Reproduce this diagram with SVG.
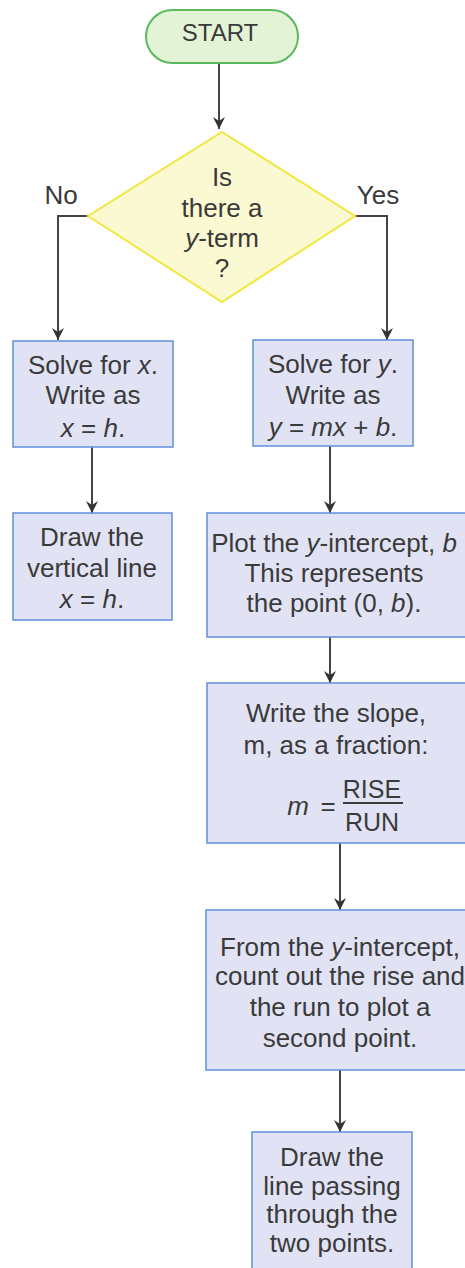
<svg xmlns="http://www.w3.org/2000/svg" width="465" height="1268" viewBox="0 0 465 1268">
<style>
text{font-family:"Liberation Sans",Arial,sans-serif;font-size:26px;fill:#3a3a3a;text-anchor:middle}
.i{font-style:italic}
.s{font-size:24px}
.f{font-size:25px}
.box{fill:#e1e3f5;stroke:#5f90dc;stroke-width:1.5}
.con{fill:none;stroke:#444;stroke-width:2}
</style>
<defs>
<marker id="ah" viewBox="0 0 12 12" refX="12" refY="6" markerWidth="12" markerHeight="12" markerUnits="userSpaceOnUse" orient="auto">
<path d="M0,0 L12,6 L0,12 L4,6 z" fill="#333"/>
</marker>
</defs>
<rect width="465" height="1268" fill="#fff"/>
<g id="connectors">
<line class="con" x1="219" y1="63" x2="219" y2="129" marker-end="url(#ah)"/>
<polyline class="con" points="88,216 58,216 58,340" marker-end="url(#ah)"/>
<polyline class="con" points="355,216 387,216 387,340" marker-end="url(#ah)"/>
<line class="con" x1="92" y1="447" x2="92" y2="513" marker-end="url(#ah)"/>
<line class="con" x1="330" y1="446" x2="330" y2="513" marker-end="url(#ah)"/>
<line class="con" x1="330" y1="637" x2="330" y2="683" marker-end="url(#ah)"/>
<line class="con" x1="340" y1="843" x2="340" y2="910" marker-end="url(#ah)"/>
<line class="con" x1="340" y1="1070" x2="340" y2="1132" marker-end="url(#ah)"/>
<text x="61" y="204">No</text>
<text x="378" y="204">Yes</text>
</g>
<g id="start">
<rect x="146" y="10" width="152" height="53" rx="26.5" fill="#e3f4d6" stroke="#5cb85c" stroke-width="2"/>
<text class="s" x="220" y="41">START</text>
</g>
<g id="decision">
<polygon points="222,132 355,216 222,302 88,216" fill="#fbf9d2" stroke="#f2e640" stroke-width="2"/>
<text x="222" y="186">Is</text>
<text x="222" y="217">there a</text>
<text x="222" y="247"><tspan class="i">y</tspan>-term</text>
<text x="222" y="277">?</text>
</g>
<g id="solve-x">
<rect class="box" x="13" y="341" width="160" height="106"/>
<text x="93" y="374">Solve for <tspan class="i">x</tspan>.</text>
<text x="93" y="404">Write as</text>
<text x="93" y="437"><tspan class="i">x</tspan> = <tspan class="i">h</tspan>.</text>
</g>
<g id="vertical-line">
<rect class="box" x="13" y="513" width="159" height="107"/>
<text x="92" y="546">Draw the</text>
<text x="92" y="577">vertical line</text>
<text x="92" y="608"><tspan class="i">x</tspan> = <tspan class="i">h</tspan>.</text>
</g>
<g id="solve-y">
<rect class="box" x="253" y="340" width="160" height="106"/>
<text x="333" y="373">Solve for <tspan class="i">y</tspan>.</text>
<text x="333" y="404">Write as</text>
<text x="333" y="436"><tspan class="i">y</tspan> = <tspan class="i">mx</tspan> + <tspan class="i">b</tspan>.</text>
</g>
<g id="plot-intercept">
<rect class="box" x="207" y="513" width="270" height="124"/>
<text x="334" y="552">Plot the <tspan class="i">y</tspan>-intercept, <tspan class="i">b</tspan></text>
<text x="334" y="582">This represents</text>
<text x="334" y="612">the point (0, <tspan class="i">b</tspan>).</text>
</g>
<g id="slope">
<rect class="box" x="207" y="683" width="270" height="160"/>
<text x="336" y="722">Write the slope,</text>
<text x="336" y="754">m, as a fraction:</text>
<text x="298" y="815" class="i">m</text>
<text x="328" y="815">=</text>
<text class="f" x="372" y="798">RISE</text>
<line x1="343" y1="803" x2="403" y2="803" stroke="#3a3a3a" stroke-width="2"/>
<text class="f" x="372" y="831">RUN</text>
</g>
<g id="count-rise">
<rect class="box" x="206" y="910" width="270" height="160"/>
<text x="340" y="956">From the <tspan class="i">y</tspan>-intercept,</text>
<text x="340" y="985">count out the rise and</text>
<text x="340" y="1016">the run to plot a</text>
<text x="340" y="1047">second point.</text>
</g>
<g id="draw-line">
<rect class="box" x="252" y="1132" width="160" height="150"/>
<text x="332" y="1166">Draw the</text>
<text x="332" y="1195">line passing</text>
<text x="332" y="1223">through the</text>
<text x="332" y="1252">two points.</text>
</g>
</svg>
